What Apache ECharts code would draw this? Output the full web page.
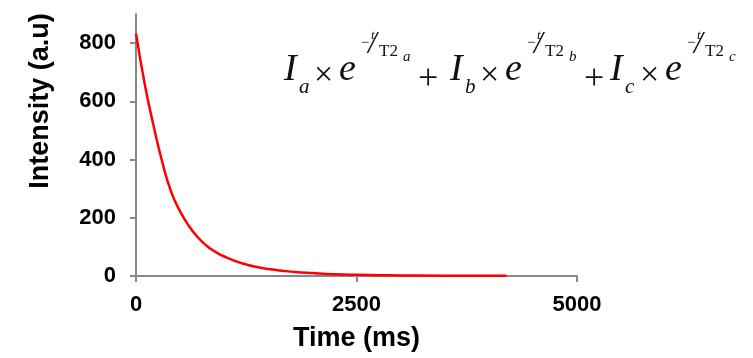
<!DOCTYPE html>
<html>
<head>
<meta charset="utf-8">
<script src="https://cdn.jsdelivr.net/npm/echarts@6/dist/echarts.min.js"></script>
<style>
  html, body { margin: 0; padding: 0; background: #fff; }
  #chart { width: 753px; height: 358px; }
</style>
</head>
<body>
<div id="chart"></div>
<script>
// decay curve
const timeMs = [0, 100, 200, 300, 400, 500, 600, 700, 800, 900, 1000, 1200, 1400, 1600, 1800, 2000, 2250, 2500, 2750, 3000, 3500, 4000, 4200];
const intensity = [833, 658, 515, 389, 288, 222, 172, 133, 104, 83, 67, 44, 29, 20, 14, 10, 6, 4, 3, 2, 1, 1, 1];
const xTicks = [0, 2500, 5000];
const yTicks = [0, 200, 400, 600, 800];

const axisGray = '#888888';
const labelFont = {color: '#000', fontSize: 22, fontWeight: 'bold', fontFamily: 'Liberation Sans, Arial, sans-serif'};

// equation I_x × e^(-t/T2_x), one block per term
const serif = 'Liberation Serif, Times New Roman, serif';
function txt(x, y, s, size, italic) {
    return {
        type: 'text', x: x, y: y, silent: true,
        style: {
            text: s, fill: '#111',
            font: (italic ? 'italic ' : '') + size + 'px ' + serif,
            align: 'left', verticalAlign: 'middle'
        }
    };
}
function term(x0, sub) {
    return [
        txt(x0, 70, 'I', 38, true),
        txt(x0 + 15, 87, sub, 21, true),
        txt(x0 + 30, 76, '×', 34, false),
        txt(x0 + 55, 70, 'e', 38, true),
        txt(x0 + 77, 43, '−', 15, false),
        txt(x0 + 87, 36, 't', 13, true),
        txt(x0 + 84, 45, '/', 31, true),
        txt(x0 + 95, 52, 'T2', 17, false),
        txt(x0 + 119, 57, sub, 15, true)
    ];
}
const equation = [].concat(
    term(284, 'a'),
    [txt(418, 80, '+', 36, false)],
    term(450, 'b'),
    [txt(584, 80, '+', 36, false)],
    term(610, 'c')
);

const myChart = echarts.init(document.getElementById('chart'));
const option = {
    animation: false,
    backgroundColor: '#fff',
    grid: {
        left: 136,
        right: 176,
        top: 14,
        bottom: 82
    },
    xAxis: {
        type: 'value',
        min: 0,
        max: 5000,
        interval: 2500,
        name: 'Time (ms)',
        nameLocation: 'middle',
        nameGap: 49,
        nameTextStyle: {color: '#000', fontSize: 27, fontWeight: 'bold', fontFamily: 'Liberation Sans, Arial, sans-serif'},
        axisLine: {lineStyle: {color: axisGray, width: 2}},
        axisTick: {length: 6, lineStyle: {color: axisGray, width: 2}, customValues: xTicks},
        axisLabel: Object.assign({margin: 18, customValues: xTicks, formatter: v => String(v)}, labelFont),
        splitLine: {show: false}
    },
    yAxis: {
        type: 'value',
        min: 0,
        max: 900,
        interval: 200,
        axisLine: {show: true, lineStyle: {color: axisGray, width: 2}},
        axisTick: {show: true, length: 6, lineStyle: {color: axisGray, width: 2}, customValues: yTicks},
        axisLabel: Object.assign({margin: 20, customValues: yTicks, formatter: v => String(v)}, labelFont),
        splitLine: {show: false}
    },
    graphic: [
        {
            type: 'text',
            x: 41,
            y: 101,
            rotation: Math.PI / 2,
            silent: true,
            style: {
                text: 'Intensity (a.u)',
                fill: '#000',
                font: 'bold 27px Liberation Sans, Arial, sans-serif',
                align: 'center',
                verticalAlign: 'middle'
            }
        }
    ].concat(equation),
    series: [
        {
            type: 'line',
            data: timeMs.map((t, i) => [t, intensity[i]]),
            smooth: true,
            showSymbol: false,
            lineStyle: {color: '#ff0000', width: 2.5}
        }
    ]
};
myChart.setOption(option);
</script>
</body>
</html>
